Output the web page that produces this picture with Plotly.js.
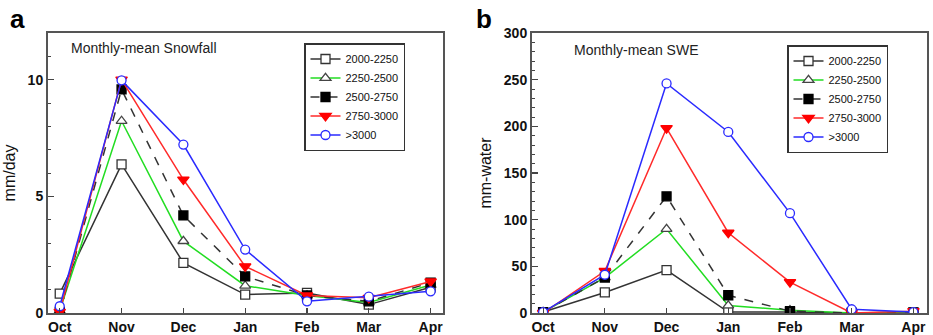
<!DOCTYPE html>
<html><head><meta charset="utf-8">
<script src="https://cdn.plot.ly/plotly-3.0.1.min.js"></script>
<style>html,body{margin:0;padding:0;background:#fff}#c{width:933px;height:335px}</style>
</head><body><div id="c"></div>
<script>
const months = ["Oct","Nov","Dec","Jan","Feb","Mar","Apr"];
const seriesNames = ["2000-2250","2250-2500","2500-2750","2750-3000",">3000"];
// Panel a: monthly-mean snowfall (mm/day)
const snow2000 = [0.83, 6.37, 2.15, 0.79, 0.86, 0.36, 1.10];
const snow2250 = [0.10, 8.23, 3.08, 1.17, 0.75, 0.45, 1.20];
const snow2500 = [0.05, 9.58, 4.18, 1.57, 0.75, 0.50, 1.30];
const snow2750 = [0.05, 10.0, 5.72, 2.00, 0.75, 0.65, 1.35];
const snow3000 = [0.29, 9.97, 7.22, 2.72, 0.50, 0.70, 0.93];
// Panel b: monthly-mean SWE (mm-water)
const swe2000 = [1, 22, 46, 1, 1, 0, 1];
const swe2250 = [1, 38, 90, 8, 3, 0, 0];
const swe2500 = [1, 38, 125, 19, 2, 0, 0];
const swe2750 = [0, 45, 198, 86, 33, 0, 2];
const swe3000 = [1, 41, 246, 194, 107, 4, 1];

const styles = [
  {color:"#333333", dash:"solid", symbol:"square", fill:"#ffffff", size:9, lc:"#333333"},
  {color:"#22dd22", dash:"solid", symbol:"triangle-up", fill:"#ffffff", size:9.5, lc:"#444444"},
  {color:"#333333", dash:"dash", symbol:"square", fill:"#000000", size:9, lc:"#000000"},
  {color:"#ff2a2a", dash:"solid", symbol:"triangle-down", fill:"#ff0000", size:10, lc:"#ff0000"},
  {color:"#2a2aff", dash:"solid", symbol:"circle", fill:"#ffffff", size:9, lc:"#2a2aff"}
];
const snow = [snow2000, snow2250, snow2500, snow2750, snow3000];
const swe = [swe2000, swe2250, swe2500, swe2750, swe3000];

const traces = [];
function add(data, xa, ya, leg) {
  data.forEach((vals, i) => {
    const s = styles[i];
    traces.push({
      x: months.map((m, k) => k), y: vals, name: seriesNames[i],
      type: "scatter", mode: "lines+markers", xaxis: xa, yaxis: ya, legend: leg,
      line: {color: s.color, width: 1.5, dash: s.dash},
      marker: {symbol: s.symbol, size: s.size, color: s.fill, line: {color: s.lc, width: 1.3}}
    });
  });
}
add(snow, "x", "y", "legend");
add(swe, "x2", "y2", "legend2");

const W = 933, H = 335;
const yb = (H - 313) / H, yt = (H - 33) / H;
const FONT = "Liberation Sans, Arial, sans-serif";
const tickFont = {family: FONT, size: 14, color: "#111", weight: "bold"};
function xax(dom) {
  return {domain: dom, range: [-0.19, 6.2], tickvals: [0,1,2,3,4,5,6], ticktext: months,
    ticks: "inside", ticklen: 5, tickwidth: 1.2, tickcolor: "#444",
    showline: true, linecolor: "#555", linewidth: 2, mirror: true,
    showgrid: false, zeroline: false, tickfont: tickFont, fixedrange: true};
}
function yax(rng, dt, title, anchor) {
  return {domain: [yb, yt], range: rng, dtick: dt, anchor: anchor,
    ticks: "inside", ticklen: 6, tickwidth: 1.2, tickcolor: "#444",
    minor: {ticks: "inside", ticklen: 3, dtick: dt / 5, tickcolor: "#444", tickwidth: 1},
    showline: true, linecolor: "#555", linewidth: 2, mirror: true,
    showgrid: false, zeroline: false, tickfont: tickFont,
    title: {text: title, font: {family: FONT, size: 16, color: "#111"}, standoff: 8}};
}
const legFont = {family: FONT, size: 11, color: "#111"};
const layout = {
  width: W, height: H, margin: {l: 0, r: 0, t: 0, b: 0},
  paper_bgcolor: "#fff", plot_bgcolor: "#fff", showlegend: true,
  xaxis: Object.assign(xax([48/W, 443/W]), {anchor: "y"}),
  yaxis: yax([0, 12], 5, "mm/day", "x"),
  xaxis2: Object.assign(xax([532/W, 927/W]), {anchor: "y2", range: [-0.18, 6.22]}),
  yaxis2: yax([0, 300], 50, "mm-water", "x2"),
  legend: {x: 304/W, y: yt - 10/H, xanchor: "left", yanchor: "top", bgcolor: "#fff",
    bordercolor: "#333", borderwidth: 1.5, font: legFont, tracegroupgap: 0, itemwidth: 30},
  legend2: {x: 787/W, y: yt - 12/H, xanchor: "left", yanchor: "top", bgcolor: "#fff",
    bordercolor: "#333", borderwidth: 1.5, font: legFont, tracegroupgap: 0, itemwidth: 30},
  annotations: [
    {text: "<b>a</b>", x: 8/W, y: 1 - 2/H, xref: "paper", yref: "paper", xanchor: "left", yanchor: "top",
     showarrow: false, font: {family: FONT, size: 26, color: "#000"}},
    {text: "<b>b</b>", x: 474/W, y: 1 - 2/H, xref: "paper", yref: "paper", xanchor: "left", yanchor: "top",
     showarrow: false, font: {family: FONT, size: 26, color: "#000"}},
    {text: "Monthly-mean Snowfall", x: 69/W, y: 1 - 48/H, xref: "paper", yref: "paper", xanchor: "left", yanchor: "middle",
     showarrow: false, font: {family: FONT, size: 14, color: "#222"}},
    {text: "Monthly-mean SWE", x: 572/W, y: 1 - 50/H, xref: "paper", yref: "paper", xanchor: "left", yanchor: "middle",
     showarrow: false, font: {family: FONT, size: 14, color: "#222"}}
  ]
};
Plotly.newPlot("c", traces, layout, {staticPlot: true});
</script></body></html>
